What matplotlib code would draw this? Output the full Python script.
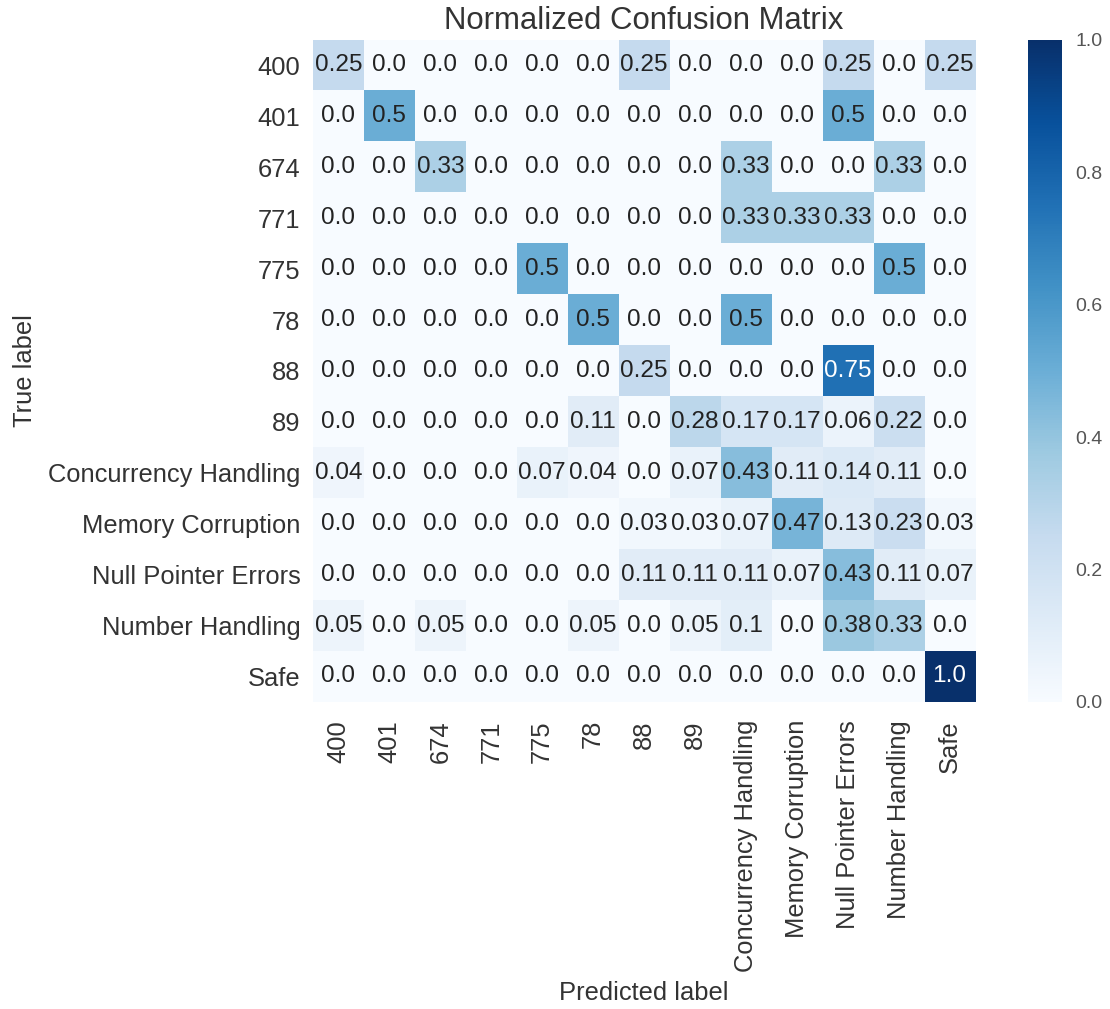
import numpy as np
import matplotlib
matplotlib.use("Agg")
import matplotlib.pyplot as plt

classes = ["400", "401", "674", "771", "775", "78", "88", "89",
           "Concurrency Handling", "Memory Corruption", "Null Pointer Errors",
           "Number Handling", "Safe"]

row_400 = [0.25, 0.0, 0.0, 0.0, 0.0, 0.0, 0.25, 0.0, 0.0, 0.0, 0.25, 0.0, 0.25]
row_401 = [0.0, 0.5, 0.0, 0.0, 0.0, 0.0, 0.0, 0.0, 0.0, 0.0, 0.5, 0.0, 0.0]
row_674 = [0.0, 0.0, 0.33, 0.0, 0.0, 0.0, 0.0, 0.0, 0.33, 0.0, 0.0, 0.33, 0.0]
row_771 = [0.0, 0.0, 0.0, 0.0, 0.0, 0.0, 0.0, 0.0, 0.33, 0.33, 0.33, 0.0, 0.0]
row_775 = [0.0, 0.0, 0.0, 0.0, 0.5, 0.0, 0.0, 0.0, 0.0, 0.0, 0.0, 0.5, 0.0]
row_78 = [0.0, 0.0, 0.0, 0.0, 0.0, 0.5, 0.0, 0.0, 0.5, 0.0, 0.0, 0.0, 0.0]
row_88 = [0.0, 0.0, 0.0, 0.0, 0.0, 0.0, 0.25, 0.0, 0.0, 0.0, 0.75, 0.0, 0.0]
row_89 = [0.0, 0.0, 0.0, 0.0, 0.0, 0.11, 0.0, 0.28, 0.17, 0.17, 0.06, 0.22, 0.0]
row_concurrency = [0.04, 0.0, 0.0, 0.0, 0.07, 0.04, 0.0, 0.07, 0.43, 0.11, 0.14, 0.11, 0.0]
row_memory = [0.0, 0.0, 0.0, 0.0, 0.0, 0.0, 0.03, 0.03, 0.07, 0.47, 0.13, 0.23, 0.03]
row_null = [0.0, 0.0, 0.0, 0.0, 0.0, 0.0, 0.11, 0.11, 0.11, 0.07, 0.43, 0.11, 0.07]
row_number = [0.05, 0.0, 0.05, 0.0, 0.0, 0.05, 0.0, 0.05, 0.1, 0.0, 0.38, 0.33, 0.0]
row_safe = [0.0, 0.0, 0.0, 0.0, 0.0, 0.0, 0.0, 0.0, 0.0, 0.0, 0.0, 0.0, 1.0]

cm = np.array([row_400, row_401, row_674, row_771, row_775, row_78, row_88,
               row_89, row_concurrency, row_memory, row_null, row_number,
               row_safe])

plt.rcParams["font.family"] = ["Liberation Sans", "DejaVu Sans"]
text_color = "#333333"

fig = plt.figure(figsize=(11.10, 10.09), dpi=100)
ax = fig.add_axes([0.282, 0.3043, 0.5964, 0.6561])
cax = fig.add_axes([0.926, 0.3043, 0.0306, 0.6561])

im = ax.imshow(cm, interpolation="nearest", cmap="Blues", vmin=0.0, vmax=1.0,
               aspect="auto")
ax.set_title("Normalized Confusion Matrix", fontsize=22.4, color=text_color,
             pad=8)

ticks = np.arange(len(classes))
ax.set_xticks(ticks)
ax.set_xticklabels(classes, rotation=90, fontsize=18.4, color=text_color)
ax.set_yticks(ticks)
ax.set_yticklabels(classes, fontsize=18.4, color=text_color)
ax.tick_params(axis="both", length=0)
ax.tick_params(axis="y", pad=9)
ax.tick_params(axis="x", pad=13)
for s in ax.spines.values():
    s.set_visible(False)

thresh = cm.max() / 2.0
for i in range(cm.shape[0]):
    for j in range(cm.shape[1]):
        v = cm[i, j]
        ax.text(j, i, str(v), ha="center", va="center", fontsize=17.6,
                color="white" if v > thresh else "#222222")

ax.set_ylabel("True label", fontsize=18.4, color=text_color, labelpad=8)
ax.set_xlabel("Predicted label", fontsize=18.4, color=text_color, labelpad=6)

cb = fig.colorbar(im, cax=cax, ticks=[0.0, 0.2, 0.4, 0.6, 0.8, 1.0])
cb.outline.set_visible(False)
cb.ax.tick_params(length=0, pad=10, labelsize=14, labelcolor="#555555")
cb.ax.set_yticklabels(["0.0", "0.2", "0.4", "0.6", "0.8", "1.0"])

fig.savefig("out.png", dpi=100, facecolor="white")
